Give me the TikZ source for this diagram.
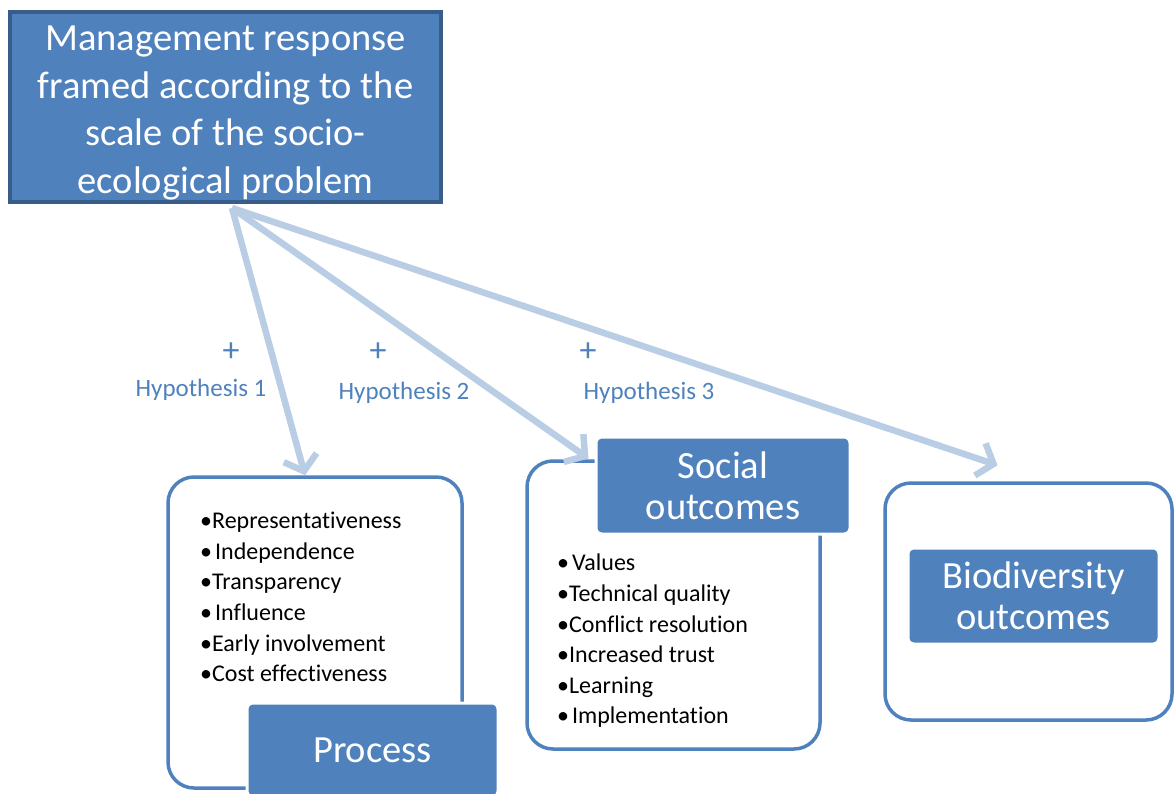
\documentclass[tikz,border=0pt]{standalone}
\usepackage{fontspec}
\setmainfont{Carlito}[Ligatures=NoCommon]
\usepackage{tikz}
\usetikzlibrary{arrows.meta,positioning}
\definecolor{officeblue}{HTML}{4F81BD}
\definecolor{officedark}{HTML}{385D8A}
\definecolor{arrowblue}{HTML}{B9CDE5}
\tikzset{
    topbox/.style={rectangle, draw=officedark, line width=4pt, fill=officeblue, text=white, align=center, inner sep=0, minimum width=431pt, minimum height=190pt, font=\fontsize{38.5}{47.5}\selectfont},
    groupframe/.style={rectangle, draw=officeblue, line width=3.5pt, rounded corners=26pt, inner sep=0},
    resultbox/.style={rectangle, draw=white, line width=3pt, fill=officeblue, text=white, rounded corners=6pt, align=center, inner sep=0, font=\fontsize{38.5}{41}\selectfont},
    itemlist/.style={anchor=west, align=left, inner sep=0, font=\fontsize{24}{30.6}\selectfont},
    hyptext/.style={text=officeblue, inner sep=0, font=\fontsize{25}{30}\selectfont},
    plussign/.style={text=officeblue, inner sep=0, font=\fontsize{34}{36}\selectfont},
    hyparrow/.style={draw=arrowblue, line width=6.5pt, -{Straight Barb[length=14pt,width=34pt]}},
}

\begin{document}
\begin{tikzpicture}[x=1pt, y=-1pt]
    \useasboundingbox (0,0) rectangle (1174,794);
    \clip (0,0) rectangle (1174,794);

    \node[topbox] (mgmt) at (225.5,107) {\rule{0pt}{37pt}Management response\\framed according to the\\scale of the socio-\\ecological problem};
    \coordinate (src) at (232,208);

    \node[groupframe, minimum width=294pt, minimum height=311pt] (procframe) at (315,632.5) {};
    \node[groupframe, minimum width=293pt, minimum height=288pt] (socframe) at (673.5,605) {};
    \node[groupframe, minimum width=287pt, minimum height=237pt] (bioframe) at (1028.5,601.5) {};

    \node[resultbox, minimum width=251pt, minimum height=94pt] (proc) at (372.5,750) {Process};
    \node[resultbox, minimum width=254pt, minimum height=97pt] (soc) at (723,485.5) {Social\\outcomes};
    \node[resultbox, minimum width=251pt, minimum height=96pt] (bio) at (1033.5,596) {Biodiversity\\outcomes};

    \node[itemlist] (proclist) at (200,597) {\textbullet Representativeness\\\textbullet\hspace{3pt}Independence\\\textbullet Transparency\\\textbullet\hspace{3pt}Influence\\\textbullet Early involvement\\\textbullet Cost effectiveness};
    \node[itemlist] (soclist) at (557,641) {\textbullet\hspace{3pt}Values\\\textbullet Technical quality\\\textbullet Conflict resolution\\\textbullet Increased trust\\\textbullet Learning\\\textbullet\hspace{3pt}Implementation};

    \foreach \i/\px/\hx/\hy in {1/231/201/390, 2/378/404/393, 3/588/649/393} {
        \node[plussign] (plus\i) at (\px,352) {+};
        \node[hyptext] (hyp\i) at (\hx,\hy) {Hypothesis \i};
    }

    \draw[hyparrow] (src) -- ([xshift=-10pt]procframe.north);
    \draw[hyparrow] (src) -- ([shift={(-6pt,27pt)}]soc.west);
    \draw[hyparrow] (src) -- ([shift={(-31pt,16pt)}]bioframe.north);
\end{tikzpicture}
\end{document}
